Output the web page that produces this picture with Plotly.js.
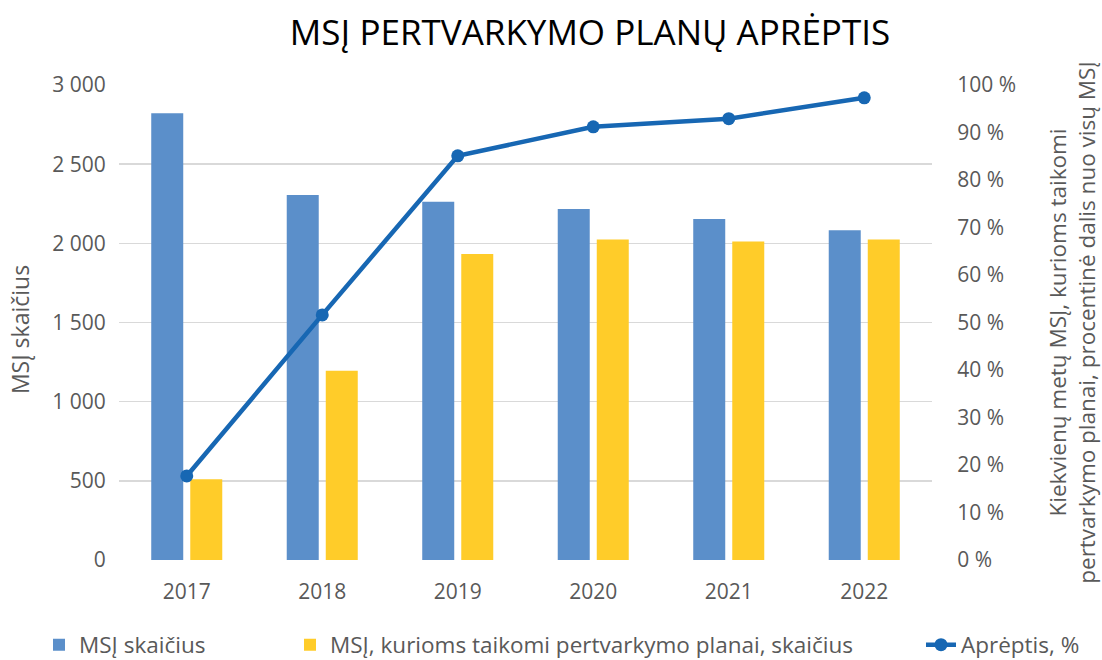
<!DOCTYPE html>
<html>
<head>
<meta charset="utf-8">
<script src="https://cdn.plot.ly/plotly-3.0.1.min.js"></script>
<style>html,body{margin:0;padding:0;background:#fff;}#chart{width:1102px;height:660px;}</style>
</head>
<body>
<div id="chart"></div>
<script>
const years = ['2017', '2018', '2019', '2020', '2021', '2022'];
const totalCount = [2821, 2305, 2263, 2217, 2154, 2082];
const withPlans = [510, 1196, 1933, 2025, 2011, 2025];
const coverage = [17.7, 51.6, 85.1, 91.2, 92.9, 97.3];
const yTickVals = [0, 500, 1000, 1500, 2000, 2500, 3000];
const yTickText = ['0', '500', '1 000', '1 500', '2 000', '2 500', '3 000'];
const y2TickVals = [0, 10, 20, 30, 40, 50, 60, 70, 80, 90, 100];
const y2TickText = ['0 %', '10 %', '20 %', '30 %', '40 %', '50 %', '60 %', '70 %', '80 %', '90 %', '100 %'];

const font = 'Open Sans, Noto Sans, sans-serif';
const grey = '#595959';
const traces = [
  {type: 'bar', name: 'MSĮ skaičius', x: years, y: totalCount, marker: {color: '#5B8FCA'}, legend: 'legend'},
  {type: 'bar', name: 'MSĮ, kurioms taikomi pertvarkymo planai, skaičius', x: years, y: withPlans,
   marker: {color: '#FFCC29'}, legend: 'legend2'},
  {type: 'scatter', mode: 'lines+markers', name: 'Aprėptis, %', x: years, y: coverage, yaxis: 'y2',
   line: {color: '#1767B3', width: 4.5}, marker: {color: '#1767B3', size: 13}, legend: 'legend3'}
];
function leg(xpx) {
  return {orientation: 'h', xref: 'container', yref: 'container', x: xpx / 1102, xanchor: 'left',
          y: 15 / 660, yanchor: 'middle', font: {size: 22.5, color: grey}, bgcolor: 'rgba(0,0,0,0)'};
}
const layout = {
  width: 1102, height: 660,
  margin: {l: 119, r: 170, t: 85, b: 100},
  paper_bgcolor: '#fff', plot_bgcolor: '#fff',
  font: {family: font, color: grey, size: 21},
  title: {text: 'MSĮ PERTVARKYMO PLANŲ APRĖPTIS', font: {family: font, size: 35, color: '#000'},
          x: 590 / 1102, xanchor: 'center', y: 0.95, yanchor: 'middle'},
  barmode: 'group', bargap: 0.424, bargroupgap: 0.18,
  xaxis: {type: 'category', showgrid: false, zeroline: false, showline: false, ticks: 'outside', ticklen: 13,
          tickcolor: 'rgba(0,0,0,0)', tickfont: {size: 21, color: grey}},
  yaxis: {range: [0, 3000], tickvals: yTickVals, ticktext: yTickText, gridcolor: '#D9D9D9', gridwidth: 1.5,
          zeroline: false, showline: false, ticks: 'outside', ticklen: 8, tickcolor: 'rgba(0,0,0,0)'},
  yaxis2: {range: [0, 100], overlaying: 'y', side: 'right', tickvals: y2TickVals, ticktext: y2TickText,
           showgrid: false, zeroline: false, showline: false, ticks: 'outside', ticklen: 20, tickcolor: 'rgba(0,0,0,0)',
           title: {text: 'Kiekvienų metų MSĮ, kurioms taikomi<br>pertvarkymo planai, procentinė dalis nuo visų MSĮ',
                   font: {size: 22.5, color: grey}, standoff: 36}},
  annotations: [
    {text: 'MSĮ skaičius', textangle: -90, showarrow: false, xref: 'paper', yref: 'paper',
     x: -99 / 813, y: 0.484, xanchor: 'center', yanchor: 'middle', font: {size: 23, color: grey}}
  ],
  legend: leg(39),
  legend2: leg(290),
  legend3: leg(921),
  showlegend: true
};
Plotly.newPlot('chart', traces, layout, {displayModeBar: false, staticPlot: true});
</script>
</body>
</html>
